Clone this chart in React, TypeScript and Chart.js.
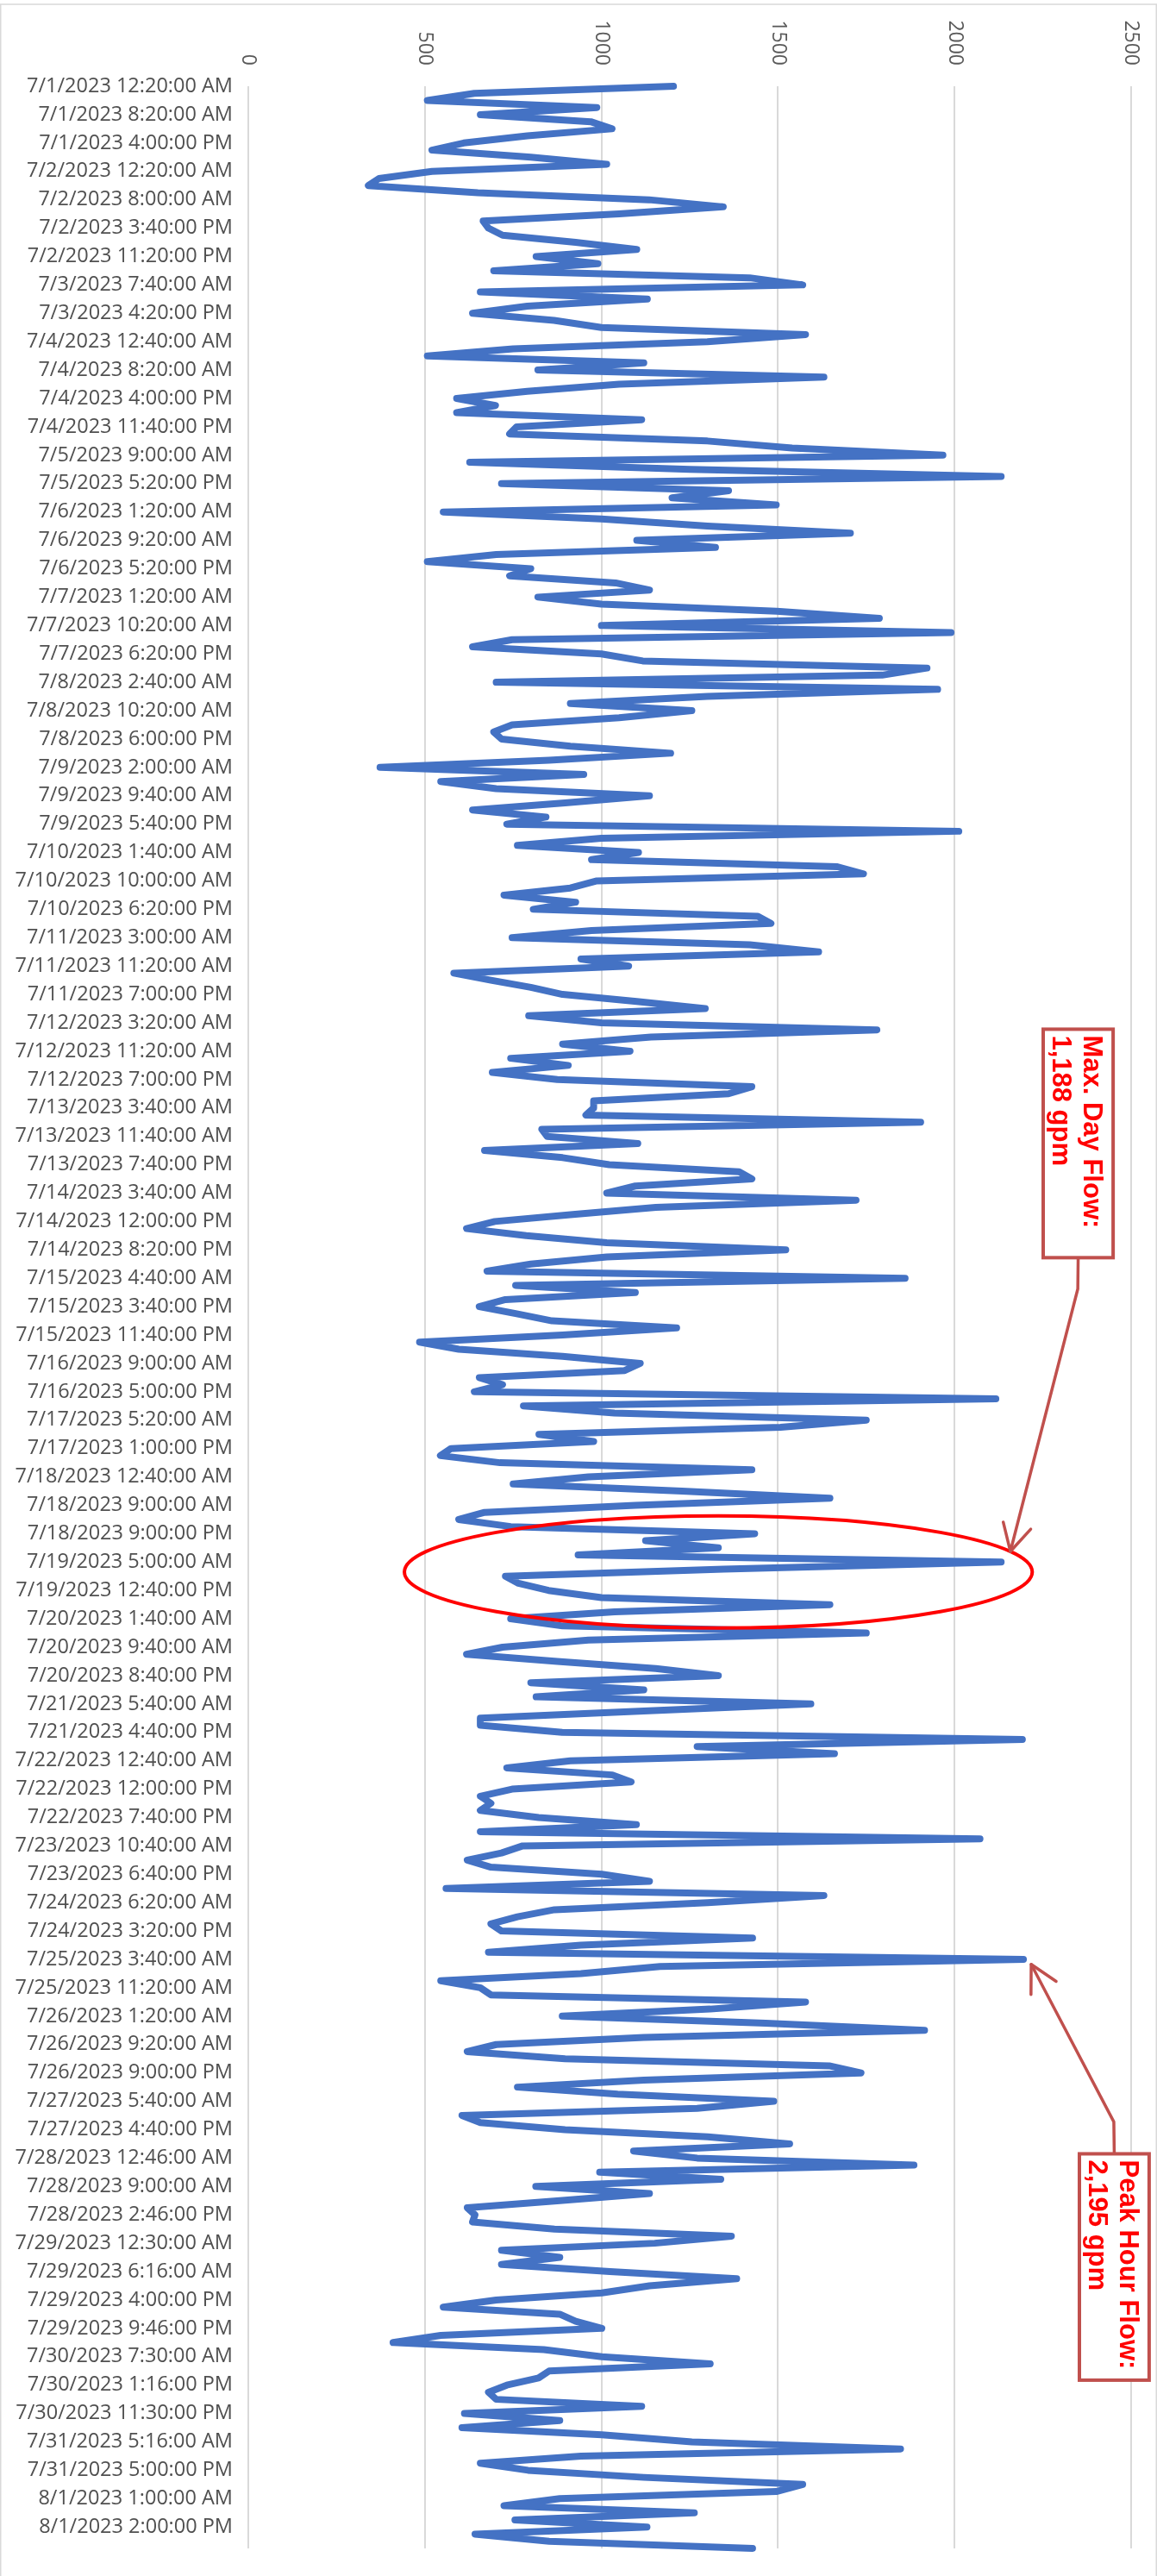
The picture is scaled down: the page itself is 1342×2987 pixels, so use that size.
import React, { useEffect, useRef } from 'react';
import { Chart, registerables } from 'chart.js';

Chart.register(...registerables);

// ---- category tick labels (shown every LABEL_EVERY points) ----
const tickLabels = [
  '7/1/2023 12:20:00 AM', '7/1/2023 8:20:00 AM', '7/1/2023 4:00:00 PM', '7/2/2023 12:20:00 AM',
  '7/2/2023 8:00:00 AM', '7/2/2023 3:40:00 PM', '7/2/2023 11:20:00 PM', '7/3/2023 7:40:00 AM',
  '7/3/2023 4:20:00 PM', '7/4/2023 12:40:00 AM', '7/4/2023 8:20:00 AM', '7/4/2023 4:00:00 PM',
  '7/4/2023 11:40:00 PM', '7/5/2023 9:00:00 AM', '7/5/2023 5:20:00 PM', '7/6/2023 1:20:00 AM',
  '7/6/2023 9:20:00 AM', '7/6/2023 5:20:00 PM', '7/7/2023 1:20:00 AM', '7/7/2023 10:20:00 AM',
  '7/7/2023 6:20:00 PM', '7/8/2023 2:40:00 AM', '7/8/2023 10:20:00 AM', '7/8/2023 6:00:00 PM',
  '7/9/2023 2:00:00 AM', '7/9/2023 9:40:00 AM', '7/9/2023 5:40:00 PM', '7/10/2023 1:40:00 AM',
  '7/10/2023 10:00:00 AM', '7/10/2023 6:20:00 PM', '7/11/2023 3:00:00 AM', '7/11/2023 11:20:00 AM',
  '7/11/2023 7:00:00 PM', '7/12/2023 3:20:00 AM', '7/12/2023 11:20:00 AM', '7/12/2023 7:00:00 PM',
  '7/13/2023 3:40:00 AM', '7/13/2023 11:40:00 AM', '7/13/2023 7:40:00 PM', '7/14/2023 3:40:00 AM',
  '7/14/2023 12:00:00 PM', '7/14/2023 8:20:00 PM', '7/15/2023 4:40:00 AM', '7/15/2023 3:40:00 PM',
  '7/15/2023 11:40:00 PM', '7/16/2023 9:00:00 AM', '7/16/2023 5:00:00 PM', '7/17/2023 5:20:00 AM',
  '7/17/2023 1:00:00 PM', '7/18/2023 12:40:00 AM', '7/18/2023 9:00:00 AM', '7/18/2023 9:00:00 PM',
  '7/19/2023 5:00:00 AM', '7/19/2023 12:40:00 PM', '7/20/2023 1:40:00 AM', '7/20/2023 9:40:00 AM',
  '7/20/2023 8:40:00 PM', '7/21/2023 5:40:00 AM', '7/21/2023 4:40:00 PM', '7/22/2023 12:40:00 AM',
  '7/22/2023 12:00:00 PM', '7/22/2023 7:40:00 PM', '7/23/2023 10:40:00 AM', '7/23/2023 6:40:00 PM',
  '7/24/2023 6:20:00 AM', '7/24/2023 3:20:00 PM', '7/25/2023 3:40:00 AM', '7/25/2023 11:20:00 AM',
  '7/26/2023 1:20:00 AM', '7/26/2023 9:20:00 AM', '7/26/2023 9:00:00 PM', '7/27/2023 5:40:00 AM',
  '7/27/2023 4:40:00 PM', '7/28/2023 12:46:00 AM', '7/28/2023 9:00:00 AM', '7/28/2023 2:46:00 PM',
  '7/29/2023 12:30:00 AM', '7/29/2023 6:16:00 AM', '7/29/2023 4:00:00 PM', '7/29/2023 9:46:00 PM',
  '7/30/2023 7:30:00 AM', '7/30/2023 1:16:00 PM', '7/30/2023 11:30:00 PM', '7/31/2023 5:16:00 AM',
  '7/31/2023 5:00:00 PM', '8/1/2023 1:00:00 AM', '8/1/2023 2:00:00 PM',
];
const LABEL_EVERY = 4;

// ---- flow values (gpm), in order ----
const flowJul01to05 = [
  1204, 640, 507, 987, 657, 970, 1030, 790, 610, 520,
  800, 1015, 520, 370, 340, 650, 1135, 1345, 1050, 665,
  680, 720, 927, 1100, 815, 990, 695, 1420, 1570, 657,
  1130, 790, 635, 866, 1000, 1578, 1300, 750, 507, 1120,
  820, 1630, 1050, 790, 590, 700, 590, 1114, 760, 740,
  1300, 1540, 1967, 627, 1250, 2132, 717, 1360, 1200, 1495,
  552, 1000, 1300, 1705,
];
const flowJul06to11 = [
  1100, 1323, 702, 507, 800, 740, 1040, 1136, 820, 1000,
  1496, 1787, 1000, 1990, 747, 635, 1000, 1117, 1922, 1795,
  702, 1952, 1300, 912, 1256, 1050, 747, 695, 717, 912,
  1196, 852, 373, 950, 545, 702, 1136, 897, 635, 843,
  732, 2012, 1000, 762, 1105, 972, 1668, 1742, 987, 912,
  724, 927, 807, 1443, 1480, 972, 747, 1420, 1615, 942,
  1077, 582, 687,
];
const flowJul11to20 = [
  800, 890, 1100, 1294, 794, 1000, 1780, 1140, 890, 1081,
  743, 906, 691, 875, 1426, 1360, 978, 978, 956, 1904,
  831, 846, 1103, 669, 890, 1022, 1390, 1426, 1096, 1015,
  1721, 1154, 919, 698, 618, 787, 1015, 1522, 1015, 800,
  676, 1860, 757, 1096, 728, 654, 760, 860, 1213, 890,
  485, 596, 890, 1110, 1066, 654, 720, 640, 2117, 779,
  1037, 1750, 1507, 823, 978, 574, 544, 713, 1426, 963,
  750, 1228, 1647, 1096, 669, 596, 743, 1434, 1125, 1331,
  934, 2132, 1346, 728, 765, 850, 1000, 1647, 1037, 743,
  890, 1750, 963, 720, 618, 875, 1154,
];
const flowJul20to26 = [
  1331, 800, 1120, 815, 1593, 1120, 657, 657, 889, 2192,
  1271, 1660, 912, 732, 1031, 1084, 747, 657, 687, 657,
  822, 1099, 657, 2072, 777, 717, 620, 687, 1001, 1136,
  560, 1630, 1301, 867, 762, 687, 717, 1428, 942, 680,
  2195, 1166, 942, 545, 657, 687, 1578, 1308, 889, 1465,
  1915, 1120, 702, 620, 897, 1645, 1735, 1120, 762, 1046,
  1488, 1271,
];
const flowJul26toAug01 = [
  605, 657, 897, 1301, 1533, 1091, 1271, 1885, 995, 1338,
  814, 1136, 882, 620, 642, 635, 867, 1368, 1151, 717,
  882, 717, 1024, 1383, 1136, 1001, 702, 552, 882, 927,
  1001, 545, 410, 837, 1001, 1308, 852, 822, 732, 680,
  702, 1114, 612, 882, 605, 1001, 1256, 1847, 942, 657,
  792, 1120, 1570, 1495, 882, 724, 1263, 755, 1129, 642,
  852, 1428,
];

const xTickValues = [0, 500, 1000, 1500, 2000, 2500];

// ---- annotations, in data units (value = gpm, index = point index) ----
const highlightEllipse = { value: 1331, index: 209.4, rValue: 889, rIndex: 7.9 };
const callouts = [
  {
    lines: ['Max. Day Flow:', '1,188 gpm'],
    left: 2251, right: 2449, top: 132.9, bottom: 165.1, attach: 'bottom',
    elbow: { value: 2349, index: 169.5 }, tip: { value: 2158, index: 206.5 },
  },
  {
    lines: ['Peak Hour Flow:', '2,195 gpm'],
    left: 2353.5, right: 2551, top: 291.4, bottom: 323.3, attach: 'top',
    elbow: { value: 2451, index: 286.9 }, tip: { value: 2217, index: 264.7 },
  },
];

const flow = [...flowJul01to05, ...flowJul06to11, ...flowJul11to20, ...flowJul20to26, ...flowJul26toAug01];
const categories = flow.map((_, i) => (i % LABEL_EVERY === 0 ? tickLabels[i / LABEL_EVERY] ?? '' : ''));

const overlayPlugin = {
  id: 'overlay',
  afterDraw(chart: any) {
    const { ctx, chartArea } = chart;
    const xs = chart.scales.x;
    const ys = chart.scales.y;
    ctx.save();

    // chart frame
    ctx.strokeStyle = '#d9d9d9';
    ctx.lineWidth = 1.5;
    ctx.beginPath();
    ctx.moveTo(0.75, chart.height);
    ctx.lineTo(0.75, 5);
    ctx.lineTo(chart.width - 0.75, 5);
    ctx.lineTo(chart.width - 0.75, chart.height);
    ctx.stroke();

    // value axis labels (rotated)
    ctx.fillStyle = '#595959';
    ctx.font = '23px "Open Sans", sans-serif';
    for (const v of xTickValues) {
      const px = xs.getPixelForValue(v);
      ctx.save();
      ctx.translate(px, chartArea.top - 24);
      ctx.rotate(Math.PI / 2);
      ctx.textAlign = 'right';
      ctx.textBaseline = 'middle';
      ctx.fillText(String(v), 0, 0);
      ctx.restore();
    }

    // ellipse
    const cx = xs.getPixelForValue(highlightEllipse.value);
    const cy = ys.getPixelForValue(highlightEllipse.index);
    const rx = xs.getPixelForValue(highlightEllipse.value + highlightEllipse.rValue) - cx;
    const ry = ys.getPixelForValue(highlightEllipse.index + highlightEllipse.rIndex) - cy;
    ctx.strokeStyle = '#FF0000';
    ctx.lineWidth = 4;
    ctx.beginPath();
    ctx.ellipse(cx, cy, rx, ry, 0, 0, Math.PI * 2);
    ctx.stroke();

    // callouts
    for (const c of callouts) {
      const l = xs.getPixelForValue(c.left);
      const r = xs.getPixelForValue(c.right);
      const t = ys.getPixelForValue(c.top);
      const b = ys.getPixelForValue(c.bottom);
      const ax = (l + r) / 2;
      const ay = c.attach === 'bottom' ? b : t;
      const ex = xs.getPixelForValue(c.elbow.value);
      const ey = ys.getPixelForValue(c.elbow.index);
      const tx = xs.getPixelForValue(c.tip.value);
      const ty = ys.getPixelForValue(c.tip.index);

      ctx.strokeStyle = '#C0504D';
      ctx.lineWidth = 3.5;
      ctx.lineJoin = 'round';
      ctx.lineCap = 'round';
      ctx.beginPath();
      ctx.moveTo(ax, ay);
      ctx.lineTo(ex, ey);
      ctx.lineTo(tx, ty);
      ctx.stroke();

      const ang = Math.atan2(ey - ty, ex - tx);
      const len = 35;
      const spread = 0.49;
      ctx.beginPath();
      ctx.moveTo(tx + len * Math.cos(ang + spread), ty + len * Math.sin(ang + spread));
      ctx.lineTo(tx, ty);
      ctx.lineTo(tx + len * Math.cos(ang - spread), ty + len * Math.sin(ang - spread));
      ctx.stroke();

      ctx.fillStyle = '#FFFFFF';
      ctx.fillRect(l, t, r - l, b - t);
      ctx.lineWidth = 4;
      ctx.lineJoin = 'miter';
      ctx.strokeRect(l, t, r - l, b - t);

      ctx.save();
      ctx.translate(r, t);
      ctx.rotate(Math.PI / 2);
      ctx.fillStyle = '#FF0000';
      ctx.font = 'bold 31px "Liberation Sans", Arial, sans-serif';
      ctx.textAlign = 'left';
      ctx.textBaseline = 'alphabetic';
      c.lines.forEach((line, k) => ctx.fillText(line, 7, 34 + k * 36));
      ctx.restore();
    }

    ctx.restore();
  },
};

export default function App() {
  const canvasRef = useRef<HTMLCanvasElement | null>(null);

  useEffect(() => {
    document.body.style.margin = '0';
    const canvas = canvasRef.current;
    if (!canvas) return;
    const chart = new Chart(canvas, {
      type: 'line',
      data: {
        labels: categories,
        datasets: [
          {
            data: flow,
            borderColor: '#4472C4',
            backgroundColor: '#4472C4',
            borderWidth: 8,
            pointRadius: 0,
            pointHoverRadius: 0,
            tension: 0,
            fill: false,
            borderJoinStyle: 'round',
            borderCapStyle: 'round',
          },
        ],
      },
      options: {
        indexAxis: 'y',
        responsive: false,
        devicePixelRatio: 1,
        animation: false,
        events: [],
        layout: { padding: { top: 100, right: 30, bottom: 20, left: 0 } },
        plugins: { legend: { display: false }, tooltip: { enabled: false } },
        scales: {
          x: {
            type: 'linear',
            position: 'top',
            min: 0,
            max: 2500,
            ticks: { display: false, stepSize: 500 },
            grid: { color: '#d9d9d9', lineWidth: 2, drawTicks: false },
            border: { display: false },
            afterFit: (s: any) => {
              s.height = 0;
            },
          },
          y: {
            type: 'category',
            offset: false,
            grid: { display: false, drawTicks: false },
            border: { display: false },
            ticks: {
              autoSkip: false,
              padding: 18,
              color: '#505050',
              font: { family: '"Open Sans", sans-serif', size: 23.5 },
            },
            afterFit: (s: any) => {
              s.width = 288;
            },
          },
        },
      },
      plugins: [overlayPlugin],
    } as any);
    return () => chart.destroy();
  }, []);

  return (
    <div style={{ position: 'absolute', left: 0, top: 0, width: 1342, height: 2987, background: '#fff' }}>
      <canvas ref={canvasRef} width={1342} height={2987} style={{ display: 'block' }} />
    </div>
  );
}
